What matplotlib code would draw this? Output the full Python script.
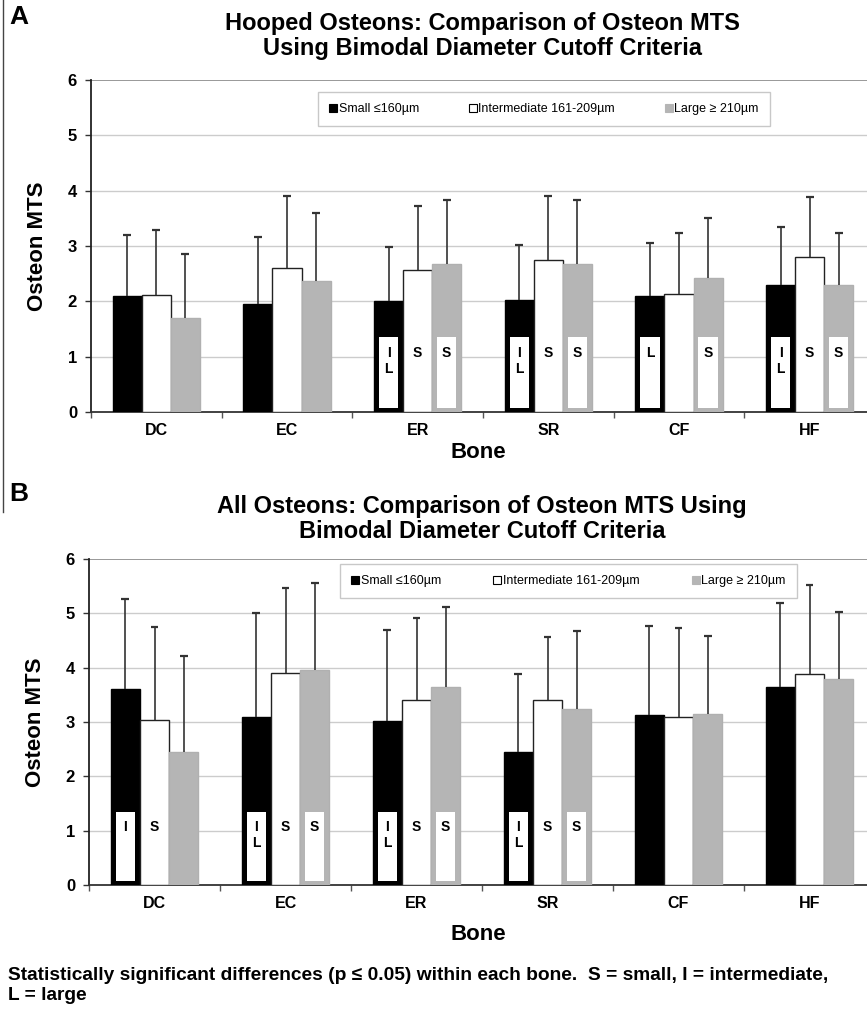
import matplotlib
matplotlib.use("Agg")
import matplotlib.pyplot as plt
from matplotlib.patches import Rectangle
from matplotlib.lines import Line2D
import numpy as np

plt.rcParams['font.family'] = ['Liberation Sans', 'DejaVu Sans']
plt.rcParams['font.weight'] = 'bold'

bones = ["DC", "EC", "ER", "SR", "CF", "HF"]
series = ["Small \u2264160\u00b5m", "Intermediate 161-209\u00b5m", "Large \u2265 210\u00b5m"]

# Panel A: hooped osteons (means and upper error-bar ends)
a_small = [2.10, 1.95, 2.00, 2.03, 2.09, 2.30]
a_inter = [2.11, 2.61, 2.57, 2.75, 2.13, 2.81]
a_large = [1.70, 2.36, 2.67, 2.67, 2.43, 2.30]
a_small_top = [3.20, 3.17, 2.99, 3.02, 3.06, 3.35]
a_inter_top = [3.29, 3.90, 3.72, 3.90, 3.23, 3.89]
a_large_top = [2.86, 3.60, 3.83, 3.83, 3.50, 3.24]

# Panel B: all osteons
b_small = [3.61, 3.10, 3.02, 2.45, 3.13, 3.64]
b_inter = [3.04, 3.91, 3.41, 3.41, 3.09, 3.89]
b_large = [2.45, 3.95, 3.65, 3.24, 3.15, 3.79]
b_small_top = [5.26, 5.01, 4.69, 3.88, 4.76, 5.19]
b_inter_top = [4.74, 5.47, 4.91, 4.56, 4.73, 5.53]
b_large_top = [4.21, 5.56, 5.12, 4.68, 4.59, 5.02]

# Significance letters
sig_a_small = ["", "", "IL", "IL", "L", "IL"]
sig_a_inter = ["", "", "S", "S", "", "S"]
sig_a_large = ["", "", "S", "S", "S", "S"]
sig_b_small = ["I", "IL", "IL", "IL", "", ""]
sig_b_inter = ["S", "S", "S", "S", "", ""]
sig_b_large = ["", "S", "S", "S", "", ""]

yticks = [0, 1, 2, 3, 4, 5, 6]

W, H = 867, 1014
fig = plt.figure(figsize=(W / 100, H / 100), dpi=100)

colors = ["#000000", "#ffffff", "#b5b5b5"]
edges = ["#000000", "#222222", "#b0b0b0"]
bw = 0.222
cap = 0.03


def panel(rect, means, tops, sigs, title, letter, title_y, letter_y, bone_y, leg_box):
    ax = fig.add_axes([rect[0] / W, 1 - rect[3] / H, (rect[2] - rect[0]) / W, (rect[3] - rect[1]) / H])
    x = np.arange(len(bones)) + 0.5
    for k in range(3):
        xs = x + (k - 1) * bw
        m = np.array(means[k])
        t = np.array(tops[k])
        ax.bar(xs, m, width=bw, color=colors[k], edgecolor=edges[k], linewidth=1.0, zorder=3)
        ax.vlines(xs, m, t, color="#333333", linewidth=1.2, zorder=4)
        ax.hlines(t, xs - cap, xs + cap, color="#333333", linewidth=1.6, zorder=4)
        for i, s in enumerate(sigs[k]):
            if not s:
                continue
            if k != 1:
                inset = 0.036
                ax.add_patch(Rectangle((xs[i] - bw / 2 + inset, 0.08), bw - 2 * inset, 1.27,
                                       facecolor="white", edgecolor="none", zorder=5))
            if len(s) == 1:
                ax.text(xs[i], 1.06, s, ha="center", va="center", fontsize=10,
                        fontweight="bold", zorder=6)
            else:
                ax.text(xs[i], 1.07, s[0], ha="center", va="center", fontsize=10,
                        fontweight="bold", zorder=6)
                ax.text(xs[i], 0.77, s[1], ha="center", va="center", fontsize=10,
                        fontweight="bold", zorder=6)
    ax.set_xlim(0, 6)
    ax.set_ylim(0, 6)
    ax.set_yticks(yticks)
    ax.set_yticklabels([str(v) for v in yticks], fontsize=12, fontweight="bold")
    ax.set_xticks(np.arange(0, 7))
    ax.set_xticklabels([])
    ax.set_xticks(x, minor=True)
    ax.set_xticklabels(bones, minor=True, fontsize=11.5, fontweight="bold")
    ax.tick_params(axis="x", which="minor", length=0, pad=8)
    ax.tick_params(axis="x", which="major", length=4, color="#555555", width=1)
    ax.tick_params(axis="y", length=4, color="#333333", width=1, pad=6)
    for yy in yticks[1:6]:
        ax.axhline(yy, color="#cccccc", linewidth=1.0, zorder=1)
    ax.axhline(6, color="#888888", linewidth=1.2, zorder=1)
    for sp in ["top", "right"]:
        ax.spines[sp].set_visible(False)
    ax.spines["left"].set_color("#222222")
    ax.spines["left"].set_linewidth(1.3)
    ax.spines["bottom"].set_color("#333333")
    ax.spines["bottom"].set_linewidth(1.3)
    ax.set_ylabel("Osteon MTS", fontsize=16, fontweight="bold", labelpad=14)
    fig.text(478 / W, 1 - bone_y / H, "Bone", ha="center", va="center", fontsize=16,
             fontweight="bold")
    fig.text(482 / W, 1 - title_y / H, title, ha="center", va="center", fontsize=17,
             fontweight="bold", linespacing=1.15)
    fig.text(9 / W, 1 - letter_y / H, letter, ha="left", va="center", fontsize=19, fontweight="bold")
    handles = [Line2D([], [], marker="s", linestyle="none", markersize=5.5,
                      markerfacecolor=colors[k], markeredgecolor=("#000000" if k < 2 else "#b5b5b5"),
                      markeredgewidth=0.8) for k in range(3)]
    x0, y0, x1, y1 = leg_box
    leg = fig.legend(handles, series, loc="center", ncol=3, mode="expand",
                     bbox_to_anchor=(x0 / W, 1 - y1 / H, (x1 - x0) / W, (y1 - y0) / H),
                     bbox_transform=fig.transFigure, fontsize=9, frameon=True, fancybox=False,
                     edgecolor="#bbbbbb", handlelength=0.6, handletextpad=0.15,
                     borderpad=0.9, columnspacing=1.5, borderaxespad=0)
    leg.get_frame().set_linewidth(1.0)
    for t in leg.get_texts():
        t.set_fontweight("normal")
    return ax


panel((91, 80, 875, 412),
      [a_small, a_inter, a_large], [a_small_top, a_inter_top, a_large_top],
      [sig_a_small, sig_a_inter, sig_a_large],
      "Hooped Osteons: Comparison of Osteon MTS\nUsing Bimodal Diameter Cutoff Criteria",
      "A", 36, 17, 453, (318, 92, 770, 126))

panel((89, 559, 875, 885),
      [b_small, b_inter, b_large], [b_small_top, b_inter_top, b_large_top],
      [sig_b_small, sig_b_inter, sig_b_large],
      "All Osteons: Comparison of Osteon MTS Using\nBimodal Diameter Cutoff Criteria",
      "B", 519, 494, 935, (340, 564, 797, 598))

fig.add_artist(Line2D([3 / W, 3 / W], [1, 1 - 512 / H], color="#444444", linewidth=1.0,
                      transform=fig.transFigure))

fig.text(8 / W, 1 - 976 / H,
         "Statistically significant differences (p \u2264 0.05) within each bone.  S = small, I = intermediate,",
         ha="left", va="center", fontsize=13.8, fontweight="bold")
fig.text(8 / W, 1 - 996 / H, "L = large", ha="left", va="center", fontsize=13.8, fontweight="bold")

fig.savefig("out.png", dpi=100)
